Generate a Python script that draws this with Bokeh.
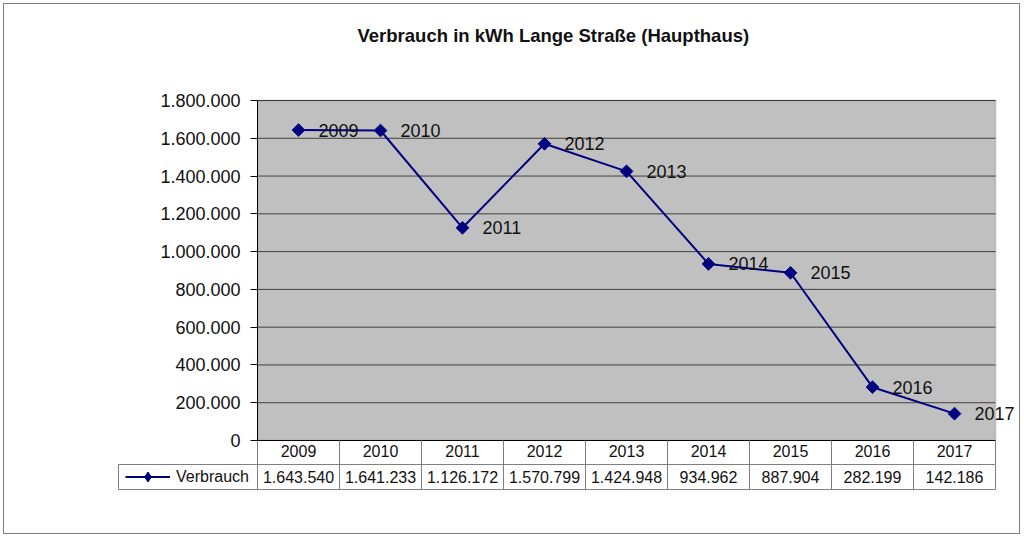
import numpy as np
from bokeh.plotting import figure
from bokeh.models import (FixedTicker, LinearAxis, ColumnDataSource, LabelSet, Grid, Label,
                          Legend, LegendItem, Range1d, FactorRange, BoxAnnotation)
from bokeh.layouts import column
from bokeh.embed import file_html
from bokeh.resources import INLINE
from bokeh.core.properties import value

# ---------------- data ----------------
title_text = "Verbrauch in kWh Lange Straße (Haupthaus)"
series_name = "Verbrauch"
years = ["2009", "2010", "2011", "2012", "2013", "2014", "2015", "2016", "2017"]
consumption = [1643540, 1641233, 1126172, 1570799, 1424948, 934962, 887904, 282199, 142186]
y_ticks = [0, 200000, 400000, 600000, 800000, 1000000, 1200000, 1400000, 1600000, 1800000]


def de(n):
    return f"{n:,}".replace(",", ".")


FONT = "Liberation Sans"
NAVY = "#000080"
TXT = "#111111"
GRAYLINE = "#808080"

n = len(years)
xc = [i + 0.5 for i in range(n)]
bounds = list(range(n + 1))
ymin, ymax = y_ticks[0], y_ticks[-1]

src = ColumnDataSource(dict(x=xc, y=consumption, year=years,
                            val=[de(v) for v in consumption],
                            row=[series_name] * n))

# layout (pixels)
W = 1015
LEFT = 253          # plot-area left edge
PLOT_W = 738        # plot-area width (9 columns)
PLOT_H = 340        # plot-area height
TOP_SPACE = 96      # space above plot area (title)
RIGHT_PAD = 4
col_px = PLOT_W / n
x_end = (W - LEFT - RIGHT_PAD) / col_px               # room right of plot area for labels
y_end = ymax + TOP_SPACE * (ymax - ymin) / PLOT_H      # room above plot area for title

# ---------------- main chart ----------------
p = figure(width=W, height=TOP_SPACE + PLOT_H + 24, x_range=Range1d(0, x_end),
           y_range=Range1d(ymin, y_end),
           x_axis_type=None, y_axis_type=None, title=None,
           output_backend="svg", toolbar_location=None,
           min_border_left=LEFT, min_border_right=RIGHT_PAD, min_border_top=0,
           min_border_bottom=24)
p.frame_align = False
p.background_fill_color = "white"
p.border_fill_color = "white"
p.outline_line_color = None

# grey plot area with its border
p.add_layout(BoxAnnotation(left=0, right=n, bottom=ymin, top=ymax,
                           fill_color="#c0c0c0", fill_alpha=1,
                           line_color=GRAYLINE, line_width=2, level="underlay"))

# horizontal gridlines inside plot area
p.segment(x0=[0] * len(y_ticks), x1=[n] * len(y_ticks), y0=y_ticks, y1=y_ticks,
          line_color="#404040", line_width=1)

yax = LinearAxis(ticker=FixedTicker(ticks=y_ticks), bounds=(ymin, ymax),
                 major_label_overrides={t: de(t) for t in y_ticks})
yax.major_tick_out = 7
yax.major_tick_in = 0
yax.minor_tick_line_color = None
yax.major_label_standoff = 10
yax.major_label_text_font = FONT
yax.major_label_text_font_size = "18px"
yax.major_label_text_color = TXT
yax.axis_line_color = "black"
yax.major_tick_line_color = "black"
p.add_layout(yax, "left")

xax = LinearAxis(ticker=FixedTicker(ticks=xc, minor_ticks=bounds), bounds=(0, n),
                 major_label_overrides={c: y for c, y in zip(xc, years)})
xax.major_tick_out = 0
xax.major_tick_in = 0
xax.major_tick_line_color = None
xax.minor_tick_out = 24
xax.minor_tick_in = 0
xax.minor_tick_line_color = GRAYLINE
xax.axis_line_color = "black"
xax.major_label_standoff = -20
xax.major_label_text_font = FONT
xax.major_label_text_font_size = "16px"
xax.major_label_text_color = TXT
p.add_layout(xax, "below")

# title
p.add_layout(Label(x=100, y=PLOT_H + TOP_SPACE - 35 + 4, x_units="screen", y_units="screen",
                   text=title_text, text_align="left", text_baseline="middle",
                   text_font=FONT, text_font_size="18.5px", text_font_style="bold",
                   text_color=TXT))

p.line("x", "y", source=src, line_color=NAVY, line_width=2)
p.scatter("x", "y", source=src, marker="square", angle=np.pi / 4, size=9,
          fill_color=NAVY, line_color=NAVY)

labels = LabelSet(x="x", y="y", text="year", source=src, x_offset=20, y_offset=0,
                  text_align="left", text_baseline="middle",
                  text_font=value(FONT), text_font_size="18px", text_color=TXT)
p.add_layout(labels)

# ---------------- data table row ----------------
T_LEFT = 114
LEGEND_CELL = 139
p2 = figure(width=W, height=69, x_range=Range1d(-LEGEND_CELL / col_px, n),
            y_range=FactorRange(series_name),
            x_axis_type=None, y_axis_type=None, title=None,
            output_backend="svg", toolbar_location=None,
            min_border_left=T_LEFT, min_border_right=W - LEFT - PLOT_W,
            min_border_top=0, min_border_bottom=44)
p2.frame_align = False
p2.background_fill_color = "white"
p2.border_fill_color = "white"
p2.outline_line_color = GRAYLINE
p2.outline_line_width = 1
p2.add_layout(Grid(dimension=0, ticker=FixedTicker(ticks=bounds[:-1]),
                   grid_line_color=GRAYLINE, grid_line_width=1))

p2.text(x="x", y="row", text="val", source=src, text_align="center", text_baseline="middle",
        text_font=value(FONT), text_font_size="16px", text_color=TXT)

lr = p2.line(x=[np.nan], y=[series_name], line_color=NAVY, line_width=2)
sr = p2.scatter(x=[np.nan], y=[series_name], marker="diamond", size=9,
                fill_color=NAVY, line_color=NAVY)
legend = Legend(items=[LegendItem(label=series_name, renderers=[lr, sr])],
                location=(7, 0), border_line_color=None, background_fill_alpha=0,
                padding=0, margin=0, spacing=0, glyph_width=45, glyph_height=25,
                label_standoff=6, label_text_font=FONT, label_text_font_size="16px",
                label_text_color=TXT)
p2.add_layout(legend)

layout = column(p, p2, spacing=0,
                styles={"border": "1px solid #808080", "margin": "3px"})

open("out.html", "w").write(file_html(layout, INLINE))
